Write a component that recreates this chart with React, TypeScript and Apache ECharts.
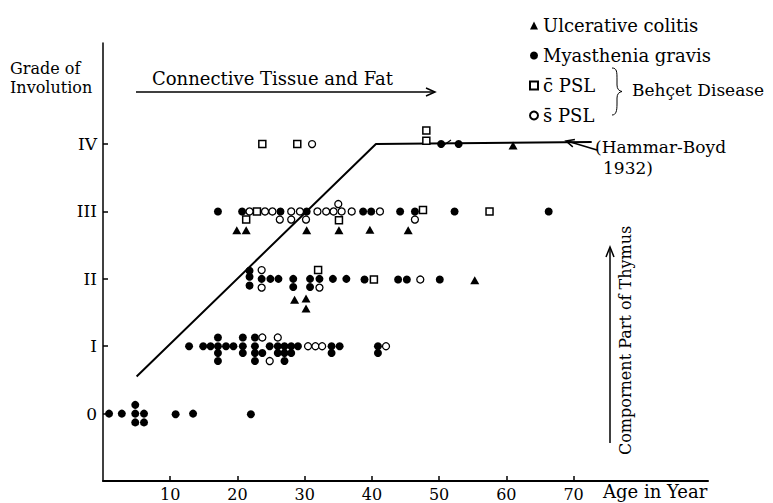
import React, { useEffect, useRef } from "react";
import * as echarts from "echarts";

const ageTicks = [10, 20, 30, 40, 50, 60, 70];
const gradeTicks = [0, 1, 2, 3, 4];
const gradeLabels = ["0", "I", "II", "III", "IV"];

const seriesNames = ["Ulcerative colitis", "Myasthenia gravis", "c\u0304 PSL", "s\u0304 PSL"];

const ulcerativeColitis = [
  [28.5, 1.69], [30.2, 1.71], [30.2, 1.56], [55.3, 1.98],
  [19.9, 2.72], [21.3, 2.72], [30.3, 2.72], [35.1, 2.72], [39.7, 2.73], [45.4, 2.72],
  [61.0, 3.98],
];

const myastheniaGravis = [
  [0.9, 0], [2.8, 0], [4.8, 0.13], [4.8, 0], [6.1, 0], [4.8, -0.13], [6.1, -0.13], [10.8, -0.01], [13.4, 0], [22.0, -0.01],
  [12.8, 1.0], [14.9, 1.0], [16.0, 1.0],
  [17.1, 1.13], [17.1, 1.0], [17.1, 0.9], [17.1, 0.78],
  [18.3, 1.0], [19.4, 1.0],
  [20.8, 1.13], [20.8, 1.0], [20.8, 0.9],
  [22.6, 1.13], [22.6, 1.0], [22.6, 0.9], [22.6, 0.78],
  [23.7, 0.9], [24.8, 1.0],
  [26.0, 1.0], [26.0, 0.9],
  [27.0, 1.0], [27.0, 0.9], [27.0, 0.78],
  [28.0, 1.0], [28.0, 0.9], [29.0, 1.0],
  [34.0, 1.0], [34.0, 0.9], [35.2, 1.0],
  [40.9, 1.0], [40.9, 0.9],
  [21.8, 2.12], [21.8, 2.03], [21.8, 1.9], [23.6, 2.0], [24.9, 2.0], [26.1, 2.0],
  [28.3, 2.0], [28.3, 1.88], [30.8, 2.0], [30.8, 1.88], [32.2, 2.0], [34.2, 2.0],
  [36.2, 2.0], [38.9, 1.99], [43.9, 1.99], [45.2, 1.99], [50.1, 1.99],
  [17.1, 3.0], [20.7, 3.0], [26.4, 3.0], [30.3, 3.0], [38.7, 3.0], [39.9, 3.0],
  [44.2, 3.0], [46.4, 3.0], [52.3, 3.0], [66.3, 3.0],
  [50.3, 4.0], [52.9, 4.0],
];

const withPSL = [
  [32.0, 2.13], [40.3, 1.99],
  [22.9, 3.0], [21.3, 2.88], [35.1, 2.87], [47.6, 3.02], [57.5, 3.0],
  [23.7, 4.0], [28.9, 4.0], [48.1, 4.05], [48.1, 4.2],
];

const withoutPSL = [
  [23.7, 1.13], [26.0, 1.13], [24.8, 0.78], [30.5, 1.0], [31.6, 1.0], [32.6, 1.0], [42.1, 1.0],
  [23.6, 2.13], [23.6, 1.87], [32.2, 1.87], [47.2, 1.99],
  [21.8, 3.0], [24.1, 3.0], [25.2, 3.0], [28.0, 3.0], [29.3, 3.0], [31.9, 3.0], [33.2, 3.0],
  [34.3, 3.0], [35.5, 3.0], [35.0, 3.11], [37.0, 3.0], [41.2, 3.0],
  [26.3, 2.88], [28.0, 2.88], [30.2, 2.88], [46.4, 2.88],
  [31.1, 4.0],
];

const hammarBoyd = [[5.0, 0.55], [40.6, 4.0], [72.7, 4.03]];

const F = "DejaVu Serif";
const BRACE = "M612,68 C617,68 617,72 617,80 L617,85 C617,89 619,91 622,91.5 C619,92 617,94 617,98 L617,104 C617,111 616,115 612,115";

let braceRegistered = false;

export default function App() {
  const ref = useRef<HTMLDivElement>(null);
  useEffect(() => {
    if (!braceRegistered) {
      echarts.graphic.registerShape("brace", echarts.graphic.extendPath(BRACE, {}));
      braceRegistered = true;
    }
    const chart = echarts.init(ref.current!, null, { renderer: "svg" });
    const txt = (text: string, x: number, y: number, size: number, extra: any = {}) => ({
      type: "text",
      x,
      y,
      ...extra,
      style: { text, fontSize: size, fontFamily: F, fill: "#000", verticalAlign: "middle", align: "left", ...(extra.style || {}) },
    });
    const ln = (x1: number, y1: number, x2: number, y2: number, w = 1.5) => ({
      type: "line",
      shape: { x1, y1, x2, y2 },
      style: { stroke: "#000", lineWidth: w },
    });
    const head = (pts: number[][]) => ({
      type: "polyline",
      shape: { points: pts },
      style: { stroke: "#000", lineWidth: 1.5, fill: "none" },
    });
    chart.setOption({
      animation: false,
      backgroundColor: "#fff",
      grid: { left: 103, right: 65, top: 43, bottom: 22, containLabel: false },
      legend: {
        orient: "vertical",
        left: 524,
        top: 10,
        itemWidth: 8,
        itemHeight: 8,
        itemGap: 9,
        textStyle: { fontFamily: F, fontSize: 18, color: "#000", lineHeight: 21 },
        data: seriesNames,
      },
      xAxis: {
        type: "value",
        min: 0,
        max: 90,
        interval: 10,
        splitLine: { show: false },
        axisLine: { onZero: false, lineStyle: { color: "#000", width: 2 } },
        axisTick: { inside: true, length: 5, customValues: ageTicks, lineStyle: { color: "#000", width: 1.5 } },
        axisLabel: { customValues: ageTicks, fontFamily: F, fontSize: 16, color: "#000", margin: 5 },
      },
      yAxis: {
        type: "value",
        min: -1,
        max: 5.5,
        splitLine: { show: false },
        axisLine: { onZero: false, lineStyle: { color: "#000", width: 1.5 } },
        axisTick: { inside: true, length: 5, customValues: gradeTicks, lineStyle: { color: "#000", width: 1.5 } },
        axisLabel: {
          customValues: gradeTicks,
          formatter: (v: number) => gradeLabels[Math.round(v)] ?? "",
          fontFamily: F,
          fontSize: 17,
          color: "#000",
          margin: 6,
        },
      },
      series: [
        {
          type: "line",
          data: hammarBoyd,
          showSymbol: false,
          symbol: "none",
          lineStyle: { color: "#000", width: 2 },
          z: 1,
          silent: true,
        },
        {
          name: seriesNames[0],
          type: "scatter",
          symbol: "triangle",
          symbolSize: [9, 8],
          itemStyle: { color: "#000", opacity: 1 },
          data: ulcerativeColitis,
          z: 3,
        },
        {
          name: seriesNames[1],
          type: "scatter",
          symbol: "circle",
          symbolSize: 8,
          itemStyle: { color: "#000", opacity: 1 },
          data: myastheniaGravis,
          z: 3,
        },
        {
          name: seriesNames[2],
          type: "scatter",
          symbol: "rect",
          symbolSize: 7,
          itemStyle: { color: "#fff", borderColor: "#000", borderWidth: 1.5, opacity: 1 },
          data: withPSL,
          z: 3,
        },
        {
          name: seriesNames[3],
          type: "scatter",
          symbol: "circle",
          symbolSize: 7,
          itemStyle: { color: "#fff", borderColor: "#000", borderWidth: 1.3, opacity: 1 },
          data: withoutPSL,
          z: 3,
        },
      ],
      graphic: [
        txt("Grade of\nInvolution", 10, 77.5, 16, { style: { lineHeight: 19 } }),
        txt("Connective Tissue and Fat", 152, 78, 18),
        ln(136, 92, 434, 92),
        head([[426, 88], [435, 92], [426, 96]]),
        txt("Behçet Disease", 632, 90, 17),
        { type: "brace", x: 0, y: 0, style: { stroke: "#000", fill: "none", lineWidth: 1 } },
        txt("(Hammar-Boyd", 595, 147, 17),
        txt("1932)", 603, 168, 17),
        ln(597, 150, 567, 141),
        head([[572.8, 146.9], [566, 141], [574.9, 139.6]]),
        ln(610, 443, 610, 248),
        head([[606, 257], [610, 247], [614, 257]]),
        txt("Compornent Part of Thymus", 625, 455, 16, { rotation: Math.PI / 2 }),
        txt("Age in Year", 603, 491, 18),
        ln(444, 145, 451, 140, 1.2),
      ],
    });
    return () => chart.dispose();
  }, []);
  return <div ref={ref} style={{ position: "fixed", left: 0, top: 0, width: 773, height: 503 }} />;
}
